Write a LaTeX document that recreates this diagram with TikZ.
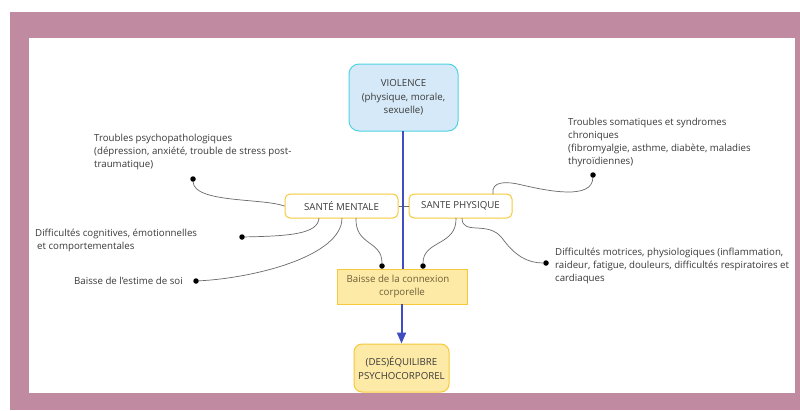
\documentclass[tikz,border=0pt]{standalone}
\usepackage{fontspec}
\setmainfont{Open Sans}
\usetikzlibrary{arrows.meta}
\definecolor{framepink}{HTML}{C08AA0}
\definecolor{inkgray}{HTML}{3A3A3A}
\definecolor{linkgray}{HTML}{6A6A6A}
\definecolor{flowblue}{HTML}{3F4DBF}
\definecolor{skyfill}{HTML}{D5E9F8}
\definecolor{cyanedge}{HTML}{4FD3E3}
\definecolor{goldedge}{HTML}{F6C83C}
\definecolor{creamfill}{HTML}{FDEAA6}
\definecolor{oliveink}{HTML}{6E6038}
\tikzset{
  every node/.style={font=\fontsize{9.7}{13.3}\selectfont, text=inkgray},
  sourcebox/.style={draw=cyanedge, fill=skyfill, line width=1pt, rounded corners=10pt,
    align=center, inner sep=0pt},
  themebox/.style={draw=goldedge, fill=white, line width=1pt, rounded corners=5pt,
    align=center, inner sep=0pt, minimum height=24pt},
  bodybox/.style={draw=goldedge, fill=creamfill, line width=1pt, align=center,
    inner sep=0pt, text=oliveink},
  outcomebox/.style={draw=goldedge, fill=creamfill, line width=1pt, rounded corners=8pt,
    align=center, inner sep=0pt},
  note/.style={align=left, inner sep=0pt, anchor=north west},
  dot/.style={circle, fill=black, inner sep=0pt, minimum size=5.5pt},
  link/.style={draw=linkgray, line width=0.7pt},
  flow/.style={draw=flowblue, line width=2pt},
}
\begin{document}
\begin{tikzpicture}[x=1pt, y=-1pt]
\useasboundingbox (0,0) rectangle (800,410);
% page frame
\fill[white] (0,0) rectangle (800,410);
\fill[framepink] (10,12) rectangle (800,410);
\fill[white] (29,38) rectangle (795,393);

% main boxes
\node[sourcebox, minimum width=109pt, minimum height=67pt] (vio) at (403.5,97.5)
  {VIOLENCE\\(physique, morale,\\sexuelle)};
\node[themebox, minimum width=113pt] (sm) at (341.5,206) {SANTÉ MENTALE};
\node[themebox, minimum width=103pt] (sp) at (460.5,206) {SANTE PHYSIQUE};

% connector between the two themes (drawn under the blue flow)
\draw[link] (sm.east) -- (sp.west);

% blue flow
\coordinate (flowtop) at (403,131);
\coordinate (flowmid) at (403,269);
\draw[flow] (flowtop) -- (flowmid);

\node[bodybox, minimum width=130pt, minimum height=35pt] (body) at (402,286.5)
  {\hspace*{-8pt}Baisse de la connexion\\corporelle};
\node[outcomebox, minimum width=95pt, minimum height=48pt] (eq) at (401.5,368)
  {(DES)ÉQUILIBRE\\PSYCHOCORPOREL};
\draw[flow, -{Triangle[width=9pt,length=11pt]}] (401.5,304) -- (eq.north);

% dots
\node[dot] (d1) at (193,179) {};
\node[dot] (d2) at (242,237) {};
\node[dot] (d3) at (196,281) {};
\node[dot] (d4) at (382,266) {};
\node[dot] (d5) at (423,266) {};
\node[dot] (d6) at (546,263) {};
\node[dot] (d7) at (593,175) {};

% text notes
\node[note] (n1) at (94,133.5) {Troubles psychopathologiques\\(dépression, anxiété, trouble de stress post-\\traumatique)};
\node[note] (n2) at (568,117.5) {Troubles somatiques et syndromes\\chroniques\\(fibromyalgie, asthme, diabète, maladies\\thyroïdiennes)};
\node[note] (n3) at (35,228.5) {Difficultés cognitives, émotionnelles\\\hspace*{2pt}et comportementales};
\node[note] (n4) at (74,277) {Baisse de l'estime de soi};
\node[note] (n5) at (555,247.5) {Difficultés motrices, physiologiques (inflammation,\\raideur, fatigue, douleurs, difficultés respiratoires et\\cardiaques};

% attachment points on the theme boxes
\coordinate (sm1) at (319,218);
\coordinate (sm2) at (342,218);
\coordinate (sm3) at (356,218);
\coordinate (sp1) at (456,218);
\coordinate (sp2) at (462,218);
\coordinate (sp3) at (493,194);

% curved links
\draw[link] (sm.west) .. controls (262,198) and (194,203) .. (d1);
\draw[link] (sm1) .. controls (318,234) and (290,236) .. (d2);
\draw[link] (sm2) .. controls (342,256) and (255,278) .. (d3);
\draw[link] (sm3) .. controls (355,246) and (382,240) .. (d4);
\draw[link] (sp1) .. controls (457,246) and (423,240) .. (d5);
\draw[link] (sp2) .. controls (462,236) and (488,220) .. (502,238)
  .. controls (515,256) and (528,263) .. (d6);
\draw[link] (sp3) .. controls (491,181) and (506,181) .. (522,185)
  .. controls (548,191) and (592,200) .. (d7);
\end{tikzpicture}
\end{document}
